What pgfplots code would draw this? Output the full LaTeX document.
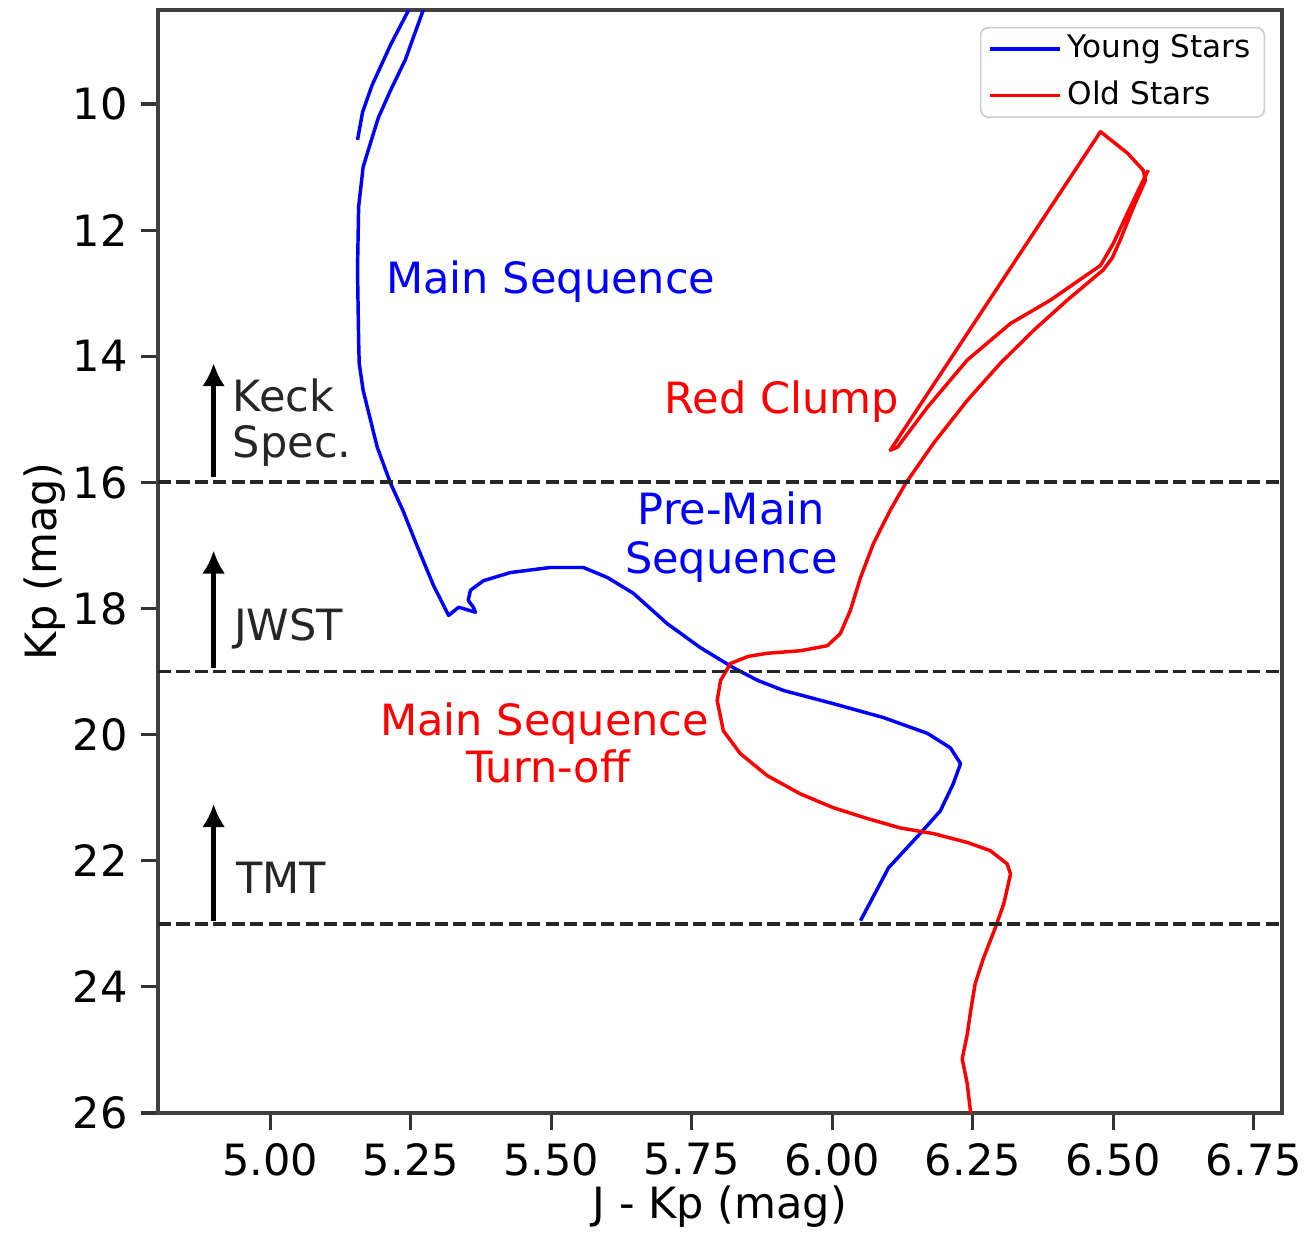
\documentclass[border=0pt]{standalone}
\usepackage{fontspec}
\setmainfont{DejaVu Sans}
\usepackage{pgfplots}
\pgfplotsset{compat=1.18}
\usetikzlibrary{arrows.meta}
\newcommand{\fs}{\fontsize{11.2}{13}\selectfont}
\newcommand{\lfs}{\fontsize{8.1}{9.5}\selectfont}
\begin{document}
\begin{tikzpicture}
\begin{axis}[
  scale only axis, width=292.24pt, height=286.78pt,
  xmin=4.8, xmax=6.8, ymin=8.51, ymax=26, y dir=reverse,
  xtick={5,5.25,5.5,5.75,6,6.25,6.5,6.75},
  ytick={10,12,14,16,18,20,22,24,26},
  x tick label style={/pgf/number format/.cd, fixed, fixed zerofill, precision=2, /tikz/.cd},
  /pgf/number format/assume math mode=true,
  tick pos=left, tick align=outside, major tick length=4.4pt,
  tick style={black!80, line width=0.8pt},
  axis line style={black!75, line width=0.8pt},
  ticklabel style={font=\fs},
  label style={font=\fs},
  xlabel={J - Kp (mag)}, ylabel={Kp (mag)},
  xlabel style={at={(axis description cs:0.5,-0.0851)}, anchor=center},
  ylabel style={at={(axis description cs:-0.1006,0.5)}, anchor=center},
  legend style={at={(axis description cs:1,1)}, anchor=north east, xshift=-4.4pt, yshift=-4.4pt,
    draw=black!20, rounded corners=2pt, fill=white, font=\lfs,
    inner xsep=2pt, inner ysep=0.3pt, row sep=1.5pt,
    nodes={inner sep=1.5pt}},
  legend cell align=left,
  legend image code/.code={\draw[#1] (0pt,0pt) -- (18.2pt,0pt);},
]
% Young stars
\addplot[blue, line width=0.9pt, line join=round] coordinates {
(6.050,22.95) (6.100,22.11) (6.157,21.56) (6.192,21.21) (6.215,20.78) (6.228,20.46)
(6.210,20.21) (6.169,19.98) (6.091,19.73) (6.002,19.51) (5.913,19.30) (5.867,19.14)
(5.824,18.94) (5.765,18.62) (5.706,18.24) (5.646,17.76) (5.600,17.51) (5.557,17.35)
(5.498,17.35) (5.427,17.43) (5.379,17.56) (5.356,17.71) (5.352,17.87) (5.361,17.98)
(5.365,18.06) (5.335,17.98) (5.317,18.11) (5.290,17.63) (5.262,17.03) (5.236,16.45)
(5.214,16.02)
(5.190,15.44) (5.165,14.54) (5.158,14.11) (5.157,13.75) (5.155,12.63) (5.157,11.63)
(5.165,11.00) (5.178,10.62) (5.192,10.22) (5.214,9.78) (5.240,9.30) (5.272,8.51)
(5.288,8.19) (5.256,8.19) (5.246,8.51) (5.214,9.06) (5.181,9.70) (5.164,10.13) (5.155,10.57)
};
\addlegendentry{Young Stars}
% Old stars
\addplot[red, line width=0.9pt, line join=round] coordinates {
(6.246,26.0) (6.240,25.54) (6.231,25.14) (6.240,24.75) (6.246,24.38) (6.254,23.95)
(6.269,23.54) (6.290,23.06) (6.305,22.68) (6.317,22.21) (6.311,22.05) (6.281,21.84)
(6.240,21.71) (6.180,21.57) (6.121,21.48) (6.062,21.33) (6.002,21.16) (5.943,20.94)
(5.884,20.65) (5.836,20.30) (5.806,19.94) (5.795,19.46) (5.801,19.14) (5.819,18.87)
(5.850,18.76) (5.884,18.71) (5.943,18.67) (5.991,18.59) (6.014,18.40) (6.032,18.03)
(6.050,17.51) (6.073,16.97) (6.103,16.44) (6.130,16.02) (6.180,15.38) (6.240,14.70)
(6.299,14.11) (6.358,13.59) (6.418,13.11) (6.482,12.63) (6.498,12.44) (6.512,12.16)
(6.536,11.63) (6.557,11.21) (6.553,11.05) (6.525,10.78) (6.477,10.44) (6.103,15.49)
(6.116,15.44) (6.169,14.81) (6.240,14.06) (6.317,13.48) (6.388,13.11) (6.477,12.56)
(6.500,12.21) (6.525,11.73) (6.553,11.21) (6.562,11.05)
};
\addlegendentry{Old Stars}
% dashed limits
\addplot[forget plot, black!85, line width=1pt, dash pattern=on 3.4pt off 1.4pt] coordinates {(4.8,16) (6.8,16)};
\addplot[forget plot, black!85, line width=1pt, dash pattern=on 3.4pt off 1.4pt] coordinates {(4.8,19) (6.8,19)};
\addplot[forget plot, black!85, line width=1pt, dash pattern=on 3.4pt off 1.4pt] coordinates {(4.8,23) (6.8,23)};
% arrows
\addplot[forget plot, black, line width=1.2pt, -{Latex[length=6pt,width=6pt]}] coordinates {(4.899,15.92) (4.899,14.11)};
\addplot[forget plot, black, line width=1.2pt, -{Latex[length=6pt,width=6pt]}] coordinates {(4.899,18.94) (4.899,17.08)};
\addplot[forget plot, black, line width=1.2pt, -{Latex[length=6pt,width=6pt]}] coordinates {(4.899,22.95) (4.899,21.10)};
% annotations
\node[font=\fs, text=black!85, inner sep=0pt, anchor=base west] at (axis cs:4.932,14.87) {Keck};
\node[font=\fs, text=black!85, inner sep=0pt, anchor=base west] at (axis cs:4.932,15.60) {Spec.};
\node[font=\fs, text=black!85, inner sep=0pt, anchor=base west] at (axis cs:4.934,18.51) {JWST};
\node[font=\fs, text=black!85, inner sep=0pt, anchor=base west] at (axis cs:4.938,22.52) {TMT};
\node[font=\fs, text=blue, inner sep=0pt, anchor=base west] at (axis cs:5.205,13.00) {Main Sequence};
\node[font=\fs, text=red, inner sep=0pt, anchor=base] at (axis cs:5.910,14.905) {Red Clump};
\node[font=\fs, text=blue, inner sep=0pt, anchor=base] at (axis cs:5.820,16.67) {Pre-Main};
\node[font=\fs, text=blue, inner sep=0pt, anchor=base] at (axis cs:5.820,17.44) {Sequence};
\node[font=\fs, text=red, inner sep=0pt, anchor=base] at (axis cs:5.488,20.02) {Main Sequence};
\node[font=\fs, text=red, inner sep=0pt, anchor=base] at (axis cs:5.494,20.76) {Turn-off};
\end{axis}
\pgfresetboundingbox
\path ([xshift=-41.08pt,yshift=-31.72pt]current axis.south west) rectangle ([xshift=301.08pt,yshift=289.38pt]current axis.south west);
\end{tikzpicture}
\end{document}
